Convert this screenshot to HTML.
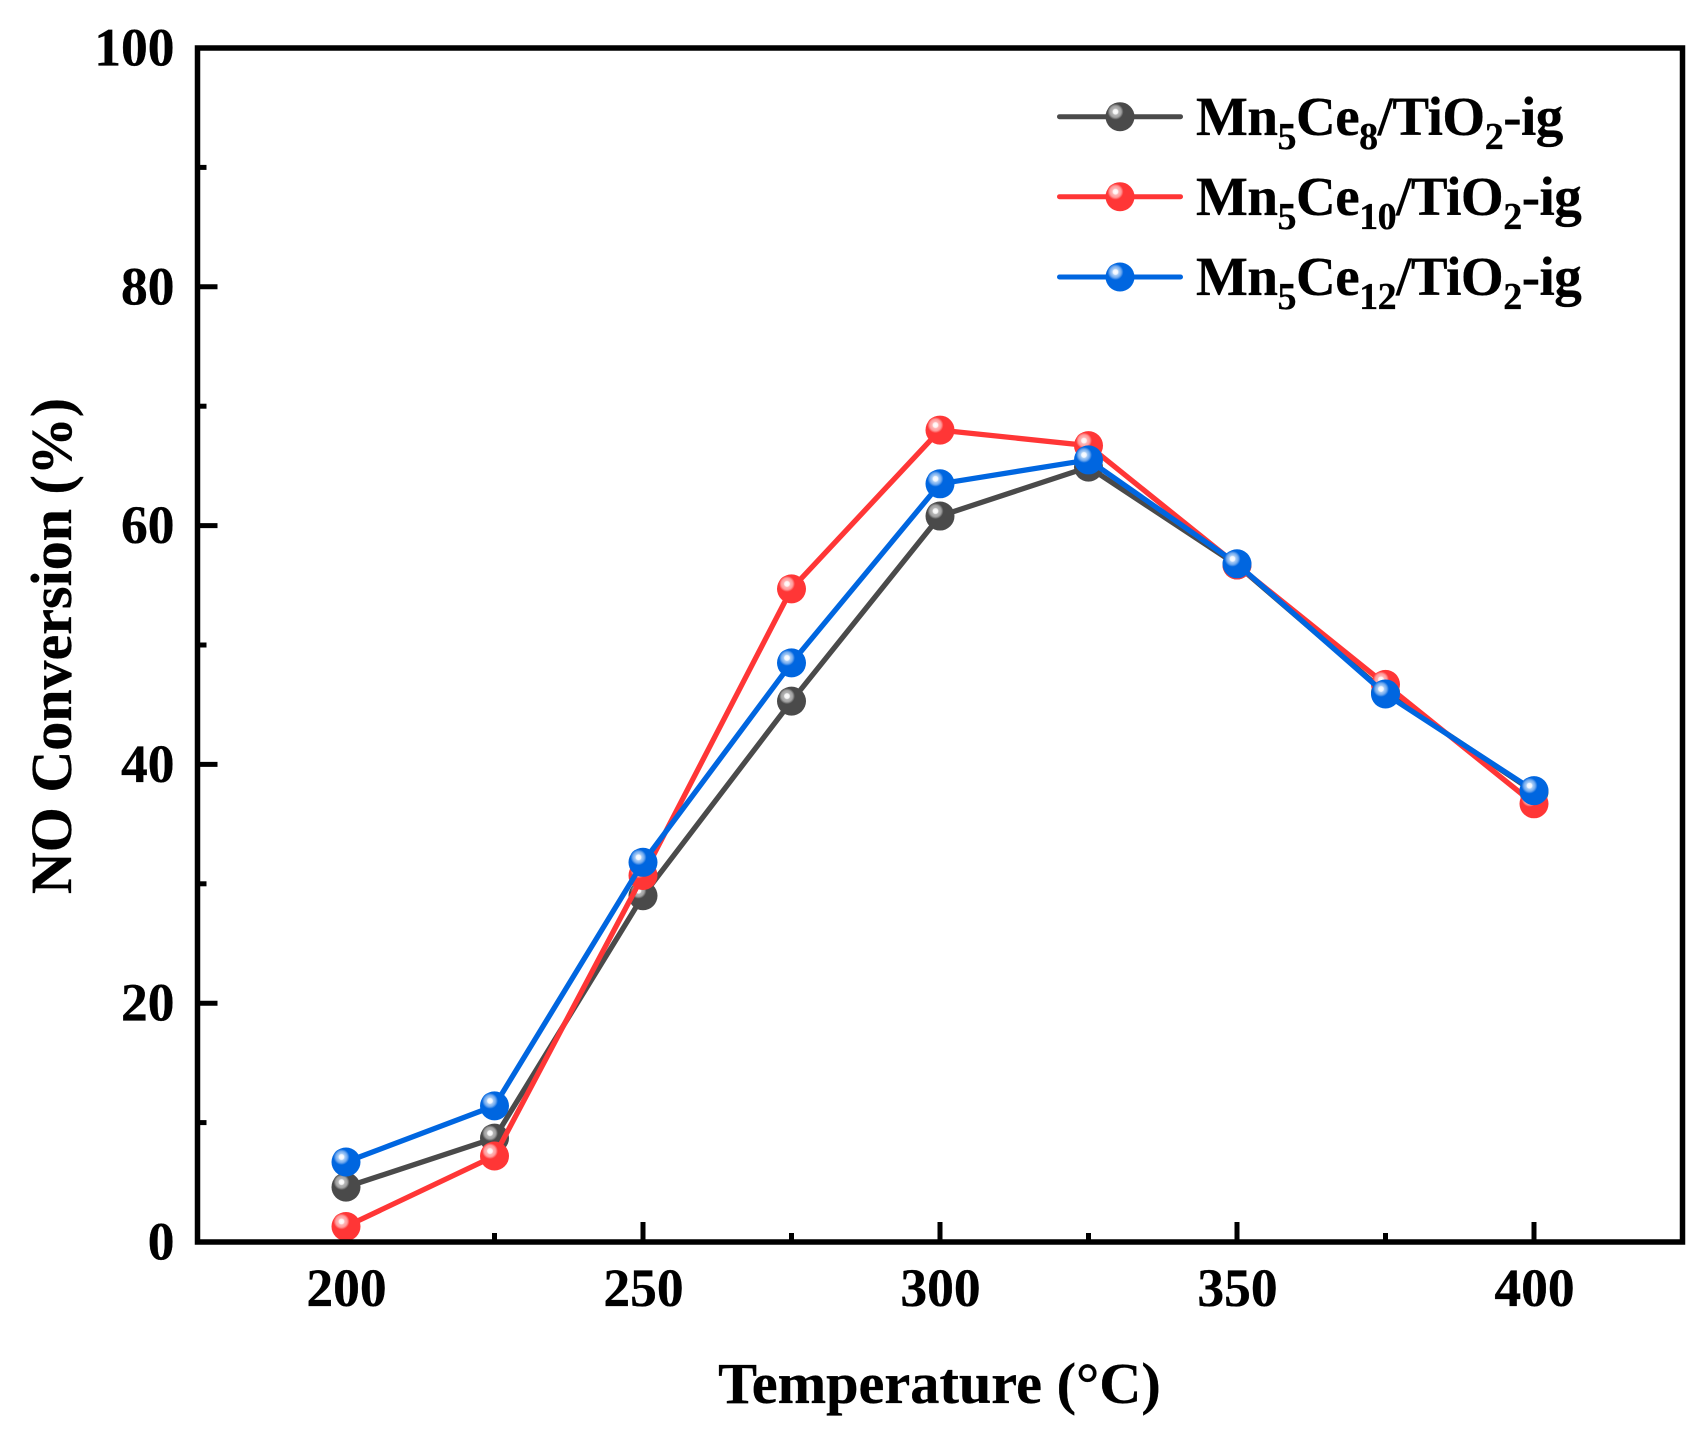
<!DOCTYPE html>
<html lang="en">
<head>
<meta charset="utf-8">
<title>NO Conversion vs Temperature</title>
<style>
  html, body { margin: 0; padding: 0; background: #fff; }
  body { width: 1703px; height: 1437px; overflow: hidden; }
  svg { display: block; }
  text { font-family: "Liberation Serif", serif; font-weight: bold; fill: #000; stroke: #000; stroke-width: 0.3px; }
</style>
</head>
<body>
<svg id="chart" xmlns="http://www.w3.org/2000/svg" width="1703" height="1437" viewBox="0 0 1703 1437">
  <defs>
    <radialGradient id="shine-gray">
      <stop offset="0" stop-color="#fff"/>
      <stop offset="0.3" stop-color="#f4f4f4"/>
      <stop offset="0.42" stop-color="#b5b5b5"/>
      <stop offset="0.72" stop-color="#a0a0a0"/>
      <stop offset="1" stop-color="#4a4a4a"/>
    </radialGradient>
    <radialGradient id="shine-red">
      <stop offset="0" stop-color="#fff"/>
      <stop offset="0.3" stop-color="#fff0f0"/>
      <stop offset="0.42" stop-color="#ffb5b5"/>
      <stop offset="0.72" stop-color="#ff9a9a"/>
      <stop offset="1" stop-color="#ff3636"/>
    </radialGradient>
    <radialGradient id="shine-blue">
      <stop offset="0" stop-color="#fff"/>
      <stop offset="0.3" stop-color="#eef5ff"/>
      <stop offset="0.42" stop-color="#a8ccf5"/>
      <stop offset="0.72" stop-color="#6fa8ee"/>
      <stop offset="1" stop-color="#0066e0"/>
    </radialGradient>
  </defs>

  <rect x="0" y="0" width="1703" height="1437" fill="#fff"/>
  <g id="ticks"></g>
  <g id="series"></g>
  <rect id="frame" fill="none" stroke="#000" stroke-width="5.5"/>

  <text x="939.5" y="1403" font-size="58.3" text-anchor="middle">Temperature (°C)</text>
  <text transform="translate(71 646) rotate(-90)" font-size="58" text-anchor="middle">NO Conversion (%)</text>

  <g id="legend" letter-spacing="-0.5">
    <text x="1196" y="135" font-size="55">Mn<tspan font-size="38" dy="14">5</tspan><tspan dy="-14">Ce</tspan><tspan font-size="38" dy="14">8</tspan><tspan dy="-14">/TiO</tspan><tspan font-size="38" dy="14">2</tspan><tspan dy="-14">-ig</tspan></text>
    <text x="1196" y="215" font-size="55">Mn<tspan font-size="38" dy="14">5</tspan><tspan dy="-14">Ce</tspan><tspan font-size="38" dy="14">10</tspan><tspan dy="-14">/TiO</tspan><tspan font-size="38" dy="14">2</tspan><tspan dy="-14">-ig</tspan></text>
    <text x="1196" y="295" font-size="55">Mn<tspan font-size="38" dy="14">5</tspan><tspan dy="-14">Ce</tspan><tspan font-size="38" dy="14">12</tspan><tspan dy="-14">/TiO</tspan><tspan font-size="38" dy="14">2</tspan><tspan dy="-14">-ig</tspan></text>
  </g>
</svg>

<script>
// Chart data
const temperatures = [200, 225, 250, 275, 300, 325, 350, 375, 400];
const ce8Values  = [4.6, 8.7, 29.0, 45.3, 60.8, 64.9, 56.7, 46.0, 37.7];
const ce10Values = [1.3, 7.2, 30.7, 54.7, 68.0, 66.7, 56.7, 46.7, 36.7];
const ce12Values = [6.7, 11.4, 31.8, 48.5, 63.5, 65.5, 56.8, 45.9, 37.8];
const xMajorTicks = [200, 250, 300, 350, 400];
const xMinorTicks = [225, 275, 325, 375];
const yMajorTicks = [0, 20, 40, 60, 80, 100];
const yMinorTicks = [10, 30, 50, 70, 90];

const SVG_NS = 'http://www.w3.org/2000/svg';
const plot = { left: 197.5, right: 1682.5, top: 48, bottom: 1242 };
const domainX = [175, 425];
const domainY = [0, 100];

function sx(v) {
  return plot.left + (v - domainX[0]) / (domainX[1] - domainX[0]) * (plot.right - plot.left);
}
function sy(v) {
  return plot.bottom - (v - domainY[0]) / (domainY[1] - domainY[0]) * (plot.bottom - plot.top);
}
function make(tag, attrs, parent) {
  const node = document.createElementNS(SVG_NS, tag);
  Object.keys(attrs).forEach(function (k) { node.setAttribute(k, attrs[k]); });
  parent.appendChild(node);
  return node;
}

const frame = document.getElementById('frame');
frame.setAttribute('x', plot.left);
frame.setAttribute('y', plot.top);
frame.setAttribute('width', plot.right - plot.left);
frame.setAttribute('height', plot.bottom - plot.top);

const tickGroup = document.getElementById('ticks');

xMajorTicks.forEach(function (v) {
  const t = make('line', { x1: sx(v), x2: sx(v), y1: plot.bottom, y2: plot.bottom - 20, stroke: '#000', 'stroke-width': 5 }, tickGroup);
  
  
  const label = make('text', { x: sx(v) + 0.5, y: 1306, 'font-size': 53.5, 'text-anchor': 'middle' }, tickGroup);
  label.textContent = String(v);
  
  
});
xMinorTicks.forEach(function (v) {
  const t = make('line', { x1: sx(v), x2: sx(v), y1: plot.bottom, y2: plot.bottom - 9, stroke: '#000', 'stroke-width': 5 }, tickGroup);
  
  
});
yMajorTicks.forEach(function (v) {
  const t = make('line', { x1: plot.left, x2: plot.left + 20, y1: sy(v), y2: sy(v), stroke: '#000', 'stroke-width': 5 }, tickGroup);
  
  
  const label = make('text', { x: 174.5, y: sy(v) + 17.5, 'font-size': 53.5, 'text-anchor': 'end' }, tickGroup);
  label.textContent = String(v);
  
  
});
yMinorTicks.forEach(function (v) {
  const t = make('line', { x1: plot.left, x2: plot.left + 9, y1: sy(v), y2: sy(v), stroke: '#000', 'stroke-width': 5 }, tickGroup);
  
  
});

function drawMarker(parent, cx, cy, color, shine) {
  make('circle', { cx: cx, cy: cy, r: 14.5, fill: color }, parent);
  make('circle', { cx: cx - 4.5, cy: cy - 5, r: 8, fill: 'url(#' + shine + ')' }, parent);
}

const seriesGroup = document.getElementById('series');
const seriesList = [
  { key: 'ce8', values: ce8Values, color: '#4a4a4a', shine: 'shine-gray' },
  { key: 'ce10', values: ce10Values, color: '#ff3636', shine: 'shine-red' },
  { key: 'ce12', values: ce12Values, color: '#0066e0', shine: 'shine-blue' }
];
seriesList.forEach(function (s) {
  const g = make('g', {}, seriesGroup);
  
  
  const pts = s.values.map(function (v, i) { return sx(temperatures[i]) + ',' + sy(v); }).join(' ');
  const line = make('polyline', { points: pts, fill: 'none', stroke: s.color, 'stroke-width': 5.3, 'stroke-linejoin': 'round' }, g);
  
  
  s.values.forEach(function (v, i) {
    const m = make('g', {}, g);
    
    
    drawMarker(m, sx(temperatures[i]), sy(v), s.color, s.shine);
  });
});

// Legend keys
const legendGroup = document.getElementById('legend');
const legendRowY = [116.7, 196.7, 277];
seriesList.forEach(function (s, i) {
  const key = make('g', {}, legendGroup);
  
  
  make('line', { x1: 1059.5, x2: 1180.5, y1: legendRowY[i], y2: legendRowY[i], stroke: s.color, 'stroke-width': 5, 'stroke-linecap': 'round' }, key);
  drawMarker(key, 1120, legendRowY[i], s.color, s.shine);
});
</script>
</body>
</html>
